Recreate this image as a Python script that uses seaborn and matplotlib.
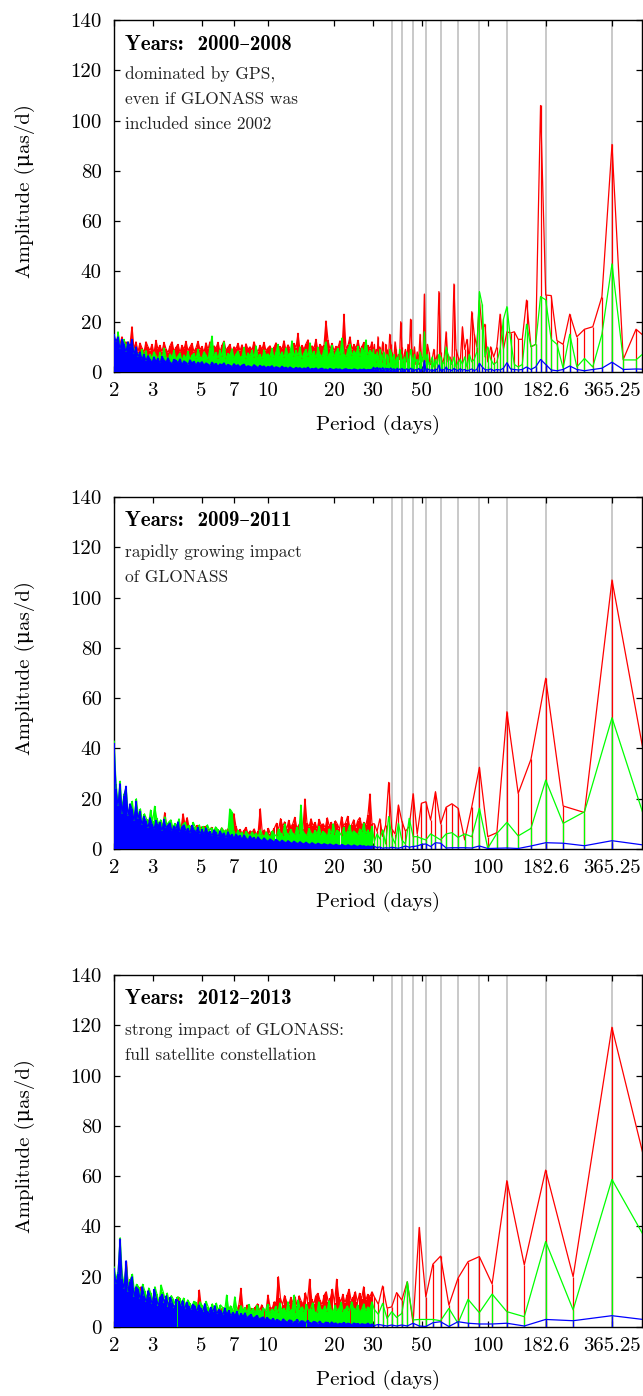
import numpy as np
import pandas as pd
import matplotlib
matplotlib.use("Agg")
import matplotlib.pyplot as plt
import seaborn as sns

# ------------------------------------------------------------------ data
YEARS = ["Years:  2000\u20132008", "Years:  2009\u20132011", "Years:  2012\u20132013"]
NOTES = [["dominated by GPS,", "even if GLONASS was", "included since 2002"],
         ["rapidly growing impact", "of GLONASS"],
         ["strong impact of GLONASS:", "full satellite constellation"]]
SPAN_DAYS = [3288, 1096, 730]      # length of each analysed series (days)
FIRST_HARMONIC = [6, 2, 1]          # harmonic index of first value in *_LONG
SHORT_RANGE = (2.0, 29.7)           # period range (days) of the *_SHORT values

PERIOD_TICKS = [2, 3, 5, 7, 10, 20, 30, 50, 100, 182.6, 365.25]
PERIOD_TICK_LABELS = ["2", "3", "5", "7", "10", "20", "30", "50", "100", "182.6", "365.25"]
AMP_TICKS = [0, 20, 40, 60, 80, 100, 120, 140]
ANNUAL = 365.25
ANNUAL_HARMONICS = [1, 2, 3, 4, 5, 6, 7, 8, 9, 10]

# ---- panel 1 : 2000-2008
P1_RED_LONG = """12 17 5 90.5 30 18 17 14 23 11
12.5 30.4 30.6 106 11 10 28.6 13 13 16
15.5 16 9 23 10 6 10 4 19 17
28.6 10 15 24 5 13 9 18 4 6
9 35 3 6 4 16 6 3 8 32
7 4 9 5 3 8 11 4 31 5
6 15 4 8 3 10 5 9 21 6
11 4 9 7 3 10 20 5 7 4
9 12 6 4 8 11 15 7 5 9
11 4 6 12 8 5 10 7 14 6
9 4 11 7 10"""
P1_GREEN_LONG = """10 4.8 4.8 43 15 2 5.4 2 15 1.5
11 13 28.7 30 11 10 19 3 2 3
13 26 21 9 4 3 5 10 6 27
32 8 5 4 7 2 6 3 5 4
2 6 3 5 7 10 4 3 6 7
3 5 2 6 4 3 7 5 16 4
6 8 3 5 4 7 3 6 9 4
5 8 3 6 4 5 7 9 4 6
5 3 7 5 6 8 9 4 6 7
3 5 8 6 4 7 9 5 6 8
4 7 5 9 6"""
P1_BLUE_LONG = """1 1.2 1 3.9 1.5 1 0.5 1 2.4 1
0.5 0.8 3 5 2 1 2 1 0.8 1
1.2 3.7 1.5 0.8 1 0.6 1.2 0.8 1 2
3.5 1 0.6 1.2 0.8 0.5 1 0.7 1.3 0.6
0.9 1.4 0.5 1 0.8 2 0.7 1.1 0.6 2.8
0.8 1.2 0.5 1 0.7 0.9 1.3 0.6 4.5 0.8
1.1 0.6 1.4 0.8 1 0.5 1.2 0.9 1.5 0.7
1 1.3 0.6 1.1 0.8 1.4 0.9 1.2 0.7 1.5
1 0.8 1.3 1.1 0.9 1.6 1.2 0.8 1.4 1.0
1.5 0.9 1.2 1.7 1 1.3 1.6 0.9 1.4 1.8
1.1 1.5 1.3 1.9 1.2"""
P1_RED_SHORT = """10 13 8 11 14 9 12 7 11 18 9 12
8 11.5 9.5 7.8 12 10 8.5 11 7.4 12.6 9 10.6 8 11.8 9.2 7.6 10.4 12 8.2 9.8 11 7.8 10.6 9 12.2 8.4 10 11.4 8 9.6 12.2 8.8
10.2 7.8 11.6 9 12 8.2 10.4 9.4 11.8 8 10.6 12.3 8.6 9.8 11 7.6 10 9.2 11.4 8.4 10.8 7.8 11.2 9 10 8.6 12 9.4 8 10.6 9 11.8 8.4 9.6
10.4 8.2 9.8 11.6 8 10.2 9 12.4 8.6 10.8 9.2 8 11.4 9.6 15.4 8.4 10.6 9 11.2 12.8 8.6 10.4 9.4 13 8.2 11 9.8 10.6 20.3 12.6 9 11.4 8.4
10.2 9.8 12.4 8.8 23 9.2 10.6 14 8.8 11 9.4 12.6 8.6 10.2 11.8 9 10.6 9.2 12"""
P1_GREEN_SHORT = """14 9 16 11 8 13 10 12 7 11 9 6
7.5 5 9 6 8.5 4.5 7 5.5 8 6.5 4.8 7.8 5.2 9.5 6 4.6 7.2 5.8 8.6 5 6.4 7.6 4.4 6.8 5.4 8.2 4.9 6.6 7.4 5.1 9 6
5.6 8 6.8 4.8 9.6 14.3 6.2 7.8 5.3 8.8 6 12 5 7.4 6.6 9.2 5.4 7 8.4 5.8 6.2 9.8 5.2 7.6 6.4 8.6 5.6 10.4 6 7 5 8.8 6.6 7.2
6 9.4 5.4 7.8 11 6.2 8 5.6 9.6 6.8 7.4 12.4 5.8 8.6 6.4 10 5.2 7.6 9 6 11.6 6.6 8.2 5.4 9.8 7 6 8.8 12 6.2 7.4 10.6 5.8 8
9.4 6.6 13.5 7.2 6 9 11 6.4 8.4 7 10.2 5.8 9.6 7.8 12.8 6.8 8.6 7.4"""
P1_BLUE_SHORT = """15 12 14 9 13 11 8 12 10 13 7 10
6 8 5 7 4.5 6.5 5 3.8 6 4.2 5.5 3.5 6.2 4.8 3.9 5.6 4 3.2 5 4.6 3.6 5.2 3 4.4 3.8 2.9 4.8 3.5 4.2 2.8 3.9 3.3
4.1 2.7 3.6 3.1 2.5 3.9 2.9 3.4 2.3 3.2 2.8 3.6 2.2 3 2.6 2.1 3.3 2.4 2.9 2 2.7 3.1 1.9 2.5 2.2 1.8 2.9 2.3 1.7 2.6 2 2.4 1.6 2.2
1.9 2.5 1.5 2.1 1.8 1.4 2.3 1.6 1.9 1.3 2 1.5 1.2 1.8 1.4 1.7 1.1 1.6 1.3 1.9 1 1.4 1.2 1.6 0.9 1.3 1.5 1 1.2 0.8 1.4 1.1 0.9 1.3
1 1.2 0.7 1.1 1.3 0.9 1 0.8 1.2 1 0.7 1.1 0.9 1.2 0.8 1 0.9 1.1"""

# ---- panel 2 : 2009-2011
P2_RED_LONG = """22.7 107 14.5 17.1 67.9 35.7 22.1 54.6 6.5 4.9 32.5 16.8 3.6 16.2 18 16.6 10 22.8
11.5 18.8 18.2 6 22 9 7 11 17.5 6 8 26.5 9.5 5 12 7 10"""
P2_GREEN_LONG = """4.6 52.2 14.8 10.2 27.4 8.2 5.2 10.6 6.2 0.3 16.2 4.9 6 4.6 6.5 6 3.6 4.9
6 3.6 4.2 4.9 4.9 12.2 2 3.5 10.2 2.2 5 12.9 2 7.6 4 6 3"""
P2_BLUE_LONG = """1.2 3.3 1.3 2.3 2.5 1.2 0.2 0.4 0.3 0.2 1.2 0.4 0.5 0.5 0.5 0.4 2.3 2.5
1 2 1.8 1.2 1 0.7 1.2 0.7 0.3 0.5 0.7 0.4 0.5 0.3 0.8 0.6 1"""
P2_RED_SHORT = """12 14 10 11 9 12 13 11 16.8 15 14 10
12 9.5 11 10 9 11.5 8.5 10 9.2 11 8.8 10.5 9 14.5 8.6 9.8 10 8.2 9.6 8.8 9 8 14 9.5 12.5 8.4 9.2 7.8 8.6 9.4 7.6 8.8
7.2 9 8 7.4 8.6 7 8.2 7.6 6.8 8.4 7.2 6.6 8 7 6.4 14.1 9 6.8 7.8 6.2 7.4 8.6 6 7.2 6.6 8 5.8 7 16 6.4 7.6 5.6 8.2 6 7
8.4 10.2 7.6 12.1 9 10.8 7.8 11.4 8.6 10 12.6 8.2 9.6 11 8 19.9 10.4 8.8 12 9.2 10.6 7.8 11.8 9.4 10 8.4 12.4 9 10.6 8.2
11.2 9.8 7.8 12.8 9.2 10.4 13 8.8 9.6 11.6 8.4 11.3 12.5 9 10.6 9.4 13.5 21.9 10"""
P2_GREEN_SHORT = """43 26 18 27 16 22 24 14 17 19 12 20
13 16 11 14 12 9.8 15.5 11 17 12.4 10 11.6 8.8 12.8 9.6 10.8 11.6 8.4 10.2 9.2 12 8 9.8 10.6 8.6 9.4 7.8 10.6 8.8 8 9.6 7.4
9 7 9.6 7.6 8.4 6.4 8.8 7.8 6 8.4 6.8 7.6 5.6 15.9 14.9 7 5.4 7.4 6 6.6 5 7 5.8 5.2 6.8 5.4 6.2 4.8 7.6 5.6 5 6.8 5.4 4.6
7.2 5.8 5 8 6.2 5.2 10 6.4 5.6 7.8 6.2 5.4 8.6 5.8 17.5 7 6 5.2 8.2 6.4 5.6 7.4 6 9 5.4 7 6.2 5 8 6 10 5.6 7.4 6.6 5.3
8.6 6 7 9.5 5.8 7.2 6.4 5.5 8 6.8 10.3 6 7.6 5.8 9"""
P2_BLUE_SHORT = """42 24 17 26 14 21 25 13 18 16 11 19
12 15 9.5 13 11 8.5 12.5 10 7.8 11.4 9 10.6 7.2 11.8 8.4 9.6 10.4 7 9.2 8 10.8 6.6 8.8 9.6 7.2 8.2 6.4 9.4 7.6 6.8 8.6 6
7.8 5.8 8.4 6.2 7 5.2 7.6 6.6 4.8 7.2 5.6 6.4 4.4 6.8 5 5.8 4.2 6 4.8 5.4 3.8 5.6 4.4 3.6 5.2 4 4.6 3.4 4.8 3.8 3.2 4.4 3.6 3
4 3.4 2.8 3.8 3.2 2.6 3.5 2.9 2.4 3.3 2.7 2.2 3.1 2.5 2.1 2.9 2.3 2 2.7 2.1 1.8 2.5 2 1.7 2.3 1.9 1.6 2.1 1.8 1.5 2 1.6 1.4
1.9 1.5 1.3 1.8 1.4 1.2 1.7 1.3 1.1 1.6 1.2 1 1.5 1.1 1.3 0.9 1.2 1 1.1"""

# ---- panel 3 : 2012-2013
P3_RED_LONG = """11.8 119.2 20 62.4 24.7 58.2 17.1 28 26 19.4 8.7 28.2
25 12 39.6 1.5 18 10.7 13.7 8 7.5 16.3 9 12"""
P3_GREEN_LONG = """12 58.7 6.8 34 4.1 6.1 13.1 5.7 11 1.5 7.4 2.5
3 3 3 2.8 18 5.4 3.8 6.1 3.4 9.4 5 7"""
P3_BLUE_LONG = """1.3 4.5 2.5 3 0.4 1.5 1.2 1.2 1.5 2.1 0.2 2.1
1.7 0.2 0.4 1.5 0.4 0.8 0.4 0.8 0.4 0.7 1 0.6"""
P3_RED_SHORT = """20 17 15 30 18 16 26 14 13 15 12 11
13 16 10 12 9.5 11 10 8.8 10.5 9 8 11.4 9.5 8.6 10 8.2 9.4 7.8 8.8 11.9 8.4 7.6 9 7.2 8.6 7 8.2 7.4 6.8 14.7 7.6 6.6
8 7 6.4 7.8 6.2 7.2 6 8 6.6 5.8 7.4 6.2 8.2 5.6 7 6.4 8.6 15.4 7.2 6 8.8 6.6 7.4 5.8 8 9.2 6.4 8.8 7 6 12.7 8 7.2 10
9.6 20 11.4 8.8 12.5 10 8.6 11.8 9.6 12 8.4 12.4 10.2 9 13.6 10 19 11 9.2 12.4 13.4 10.6 8.8 12.6 14 10 11.4 15 9.4 19
12 10 13 9.6 12.6 15 10.4 11.8 14 9.8 13.4 11.2 16 10.6 13 12 14"""
P3_GREEN_SHORT = """24 19 22 35.5 21 17 25 16 19 21 14 17
16 13 17 14.5 11.5 15.5 13.5 10 16 13 9.5 16.7 14 11 13.5 9.8 12.5 11 8.8 12 11.5 9.6 11.5 8.4 10.8 9.4 8 10.2 9.8 7.6 10 8.6
7.4 10.2 8 6.6 9.2 7.4 9.5 6.4 8.8 7.8 6 12.7 7 8.4 6.2 12 7.2 5.8 8.5 6.6 7.8 5.6 9 6.2 7.4 5.4 8.6 6.8 5.8 7.6 6.2 9 5.4 7
6.4 8.2 5.6 9.5 6.6 7.4 5.8 10 6.2 7 12.7 5.4 10.7 6.8 8 5.8 9 6.4 7.2 9.6 6 5.6 10 7 6.6 8.4 6 10.5 7.2 5.8 8.6 6.4 7.6
9.8 6 7 8.4 6.2 10 7.4 6.6 8.8 5.8 7 9.2 6.4 8 7.2 10"""
P3_BLUE_SHORT = """23.3 17 21 35 19 15 26.4 14 18 20 12 16
15 11 16 12.5 10 14.5 12 9 15 11.5 8.5 12 13 9.6 12.5 8 11.8 9.5 7.4 11 10.2 8.2 10.5 7 9.8 8.2 6.6 9 8.4 6.2 8.8 7.4
6 9.3 6.5 5.4 7.8 6 8.5 5.2 7 6.4 4.8 7.6 5 6.6 4.4 5.8 4.6 6.2 3.8 5.4 4.2 5.6 3.6 4.4 5 3.4 4 4.6 3.2 3.6 4 2.8 3.8 3
2.6 3.4 2.2 3 2.5 2 3.2 2.4 1.8 2.8 2.6 1.7 2.2 3 1.6 2.5 2.3 1.5 2.6 1.8 1.4 2.2 2 1.3 2.3 1.5 1.2 1.9 1.8 1.1 2 1.3
1.6 1 1.5 1.2 1.8 1.1 1.5 1.3 0.9 1.6 1.2 1.4 0.9 1.3 1.1 1 1.5 0.8 1.2"""

PANEL_SERIES = [
    [("#ff0000", P1_RED_LONG, P1_RED_SHORT), ("#00ff00", P1_GREEN_LONG, P1_GREEN_SHORT),
     ("#0000ff", P1_BLUE_LONG, P1_BLUE_SHORT)],
    [("#ff0000", P2_RED_LONG, P2_RED_SHORT), ("#00ff00", P2_GREEN_LONG, P2_GREEN_SHORT),
     ("#0000ff", P2_BLUE_LONG, P2_BLUE_SHORT)],
    [("#ff0000", P3_RED_LONG, P3_RED_SHORT), ("#00ff00", P3_GREEN_LONG, P3_GREEN_SHORT),
     ("#0000ff", P3_BLUE_LONG, P3_BLUE_SHORT)],
]


def spectrum(span, k0, long_txt, short_txt):
    a_long = np.array(long_txt.split(), float)
    p_long = span / np.arange(k0, k0 + len(a_long))
    a_short = np.array(short_txt.split(), float)
    p_short = np.geomspace(SHORT_RANGE[0], SHORT_RANGE[1], len(a_short))
    df = pd.DataFrame({
        "period": np.concatenate([p_short, p_long]),
        "amp": np.concatenate([a_short, a_long]),
        "dense": np.r_[np.ones(len(a_short), bool), np.zeros(len(a_long), bool)],
    })
    return df.sort_values("period").reset_index(drop=True)


# ------------------------------------------------------------------ style
sns.set_theme(style="ticks")
plt.rcParams["font.family"] = ["cmr10", "DejaVu Serif"]
plt.rcParams["mathtext.fontset"] = "cm"
plt.rcParams["axes.formatter.use_mathtext"] = True
plt.rcParams["axes.linewidth"] = 1.0
plt.rcParams["axes.edgecolor"] = "black"

W, H = 643, 1396
fig = plt.figure(figsize=(W / 100, H / 100), dpi=100)
AX_LEFT, AX_RIGHT, AX_H = 114, 642, 352
AX_TOPS = [20, 497, 975]

for pi, top in enumerate(AX_TOPS):
    ax = fig.add_axes([AX_LEFT / W, 1 - (top + AX_H) / H, (AX_RIGHT - AX_LEFT) / W, AX_H / H])
    ax.set_xscale("log")
    ax.set_xlim(2, 500)
    ax.set_ylim(0, 140)

    for k in ANNUAL_HARMONICS:
        ax.axvline(ANNUAL / k, color="#c0c0c0", lw=1.2, zorder=0.5)

    for si, (color, ltxt, stxt) in enumerate(PANEL_SERIES[pi]):
        df = spectrum(SPAN_DAYS[pi], FIRST_HARMONIC[pi], ltxt, stxt)
        z = 2 + si
        ax.vlines(df["period"], 0, df["amp"], colors=color,
                  linewidths=np.where(df["dense"], 1.5, 0.9), zorder=z)
        sns.lineplot(data=df, x="period", y="amp", color=color, lw=0.9,
                     estimator=None, sort=True, ax=ax, zorder=z + 0.1, legend=False)

    ax.set_xticks(PERIOD_TICKS)
    ax.set_xticklabels(PERIOD_TICK_LABELS)
    ax.xaxis.set_minor_locator(matplotlib.ticker.NullLocator())
    ax.set_yticks(AMP_TICKS)
    ax.set_yticklabels([str(v) for v in AMP_TICKS])
    ax.tick_params(axis="both", which="major", direction="in", length=4, width=0.9,
                   top=True, right=True, labelsize=15, color="black", labelcolor="black")
    ax.tick_params(axis="x", pad=7)
    ax.tick_params(axis="y", pad=9)
    for s in ax.spines.values():
        s.set_linewidth(1.0)
        s.set_color("black")

    ax.set_xlabel("Period (days)", fontsize=15, color="black")
    ax.xaxis.set_label_coords(0.5, -53 / AX_H)
    ax.xaxis.label.set_va("center")
    ax.set_ylabel("Amplitude (\u03bcas/d)", fontsize=15, color="black")
    ax.yaxis.set_label_coords((25 - AX_LEFT) / (AX_RIGHT - AX_LEFT), 0.515)
    ax.yaxis.label.set_va("center")

    tx = 11 / (AX_RIGHT - AX_LEFT)
    ax.text(tx, 1 - 29.5 / AX_H, YEARS[pi], transform=ax.transAxes, va="baseline",
            ha="left", fontsize=15, family=["cmb10", "DejaVu Serif"], color="black", zorder=10)
    for li, line in enumerate(NOTES[pi]):
        ax.text(tx, 1 - (60 + 24.5 * li) / AX_H, line, transform=ax.transAxes,
                va="baseline", ha="left", fontsize=12.5, color="#222222", zorder=10)

fig.savefig("out.png", dpi=100)
